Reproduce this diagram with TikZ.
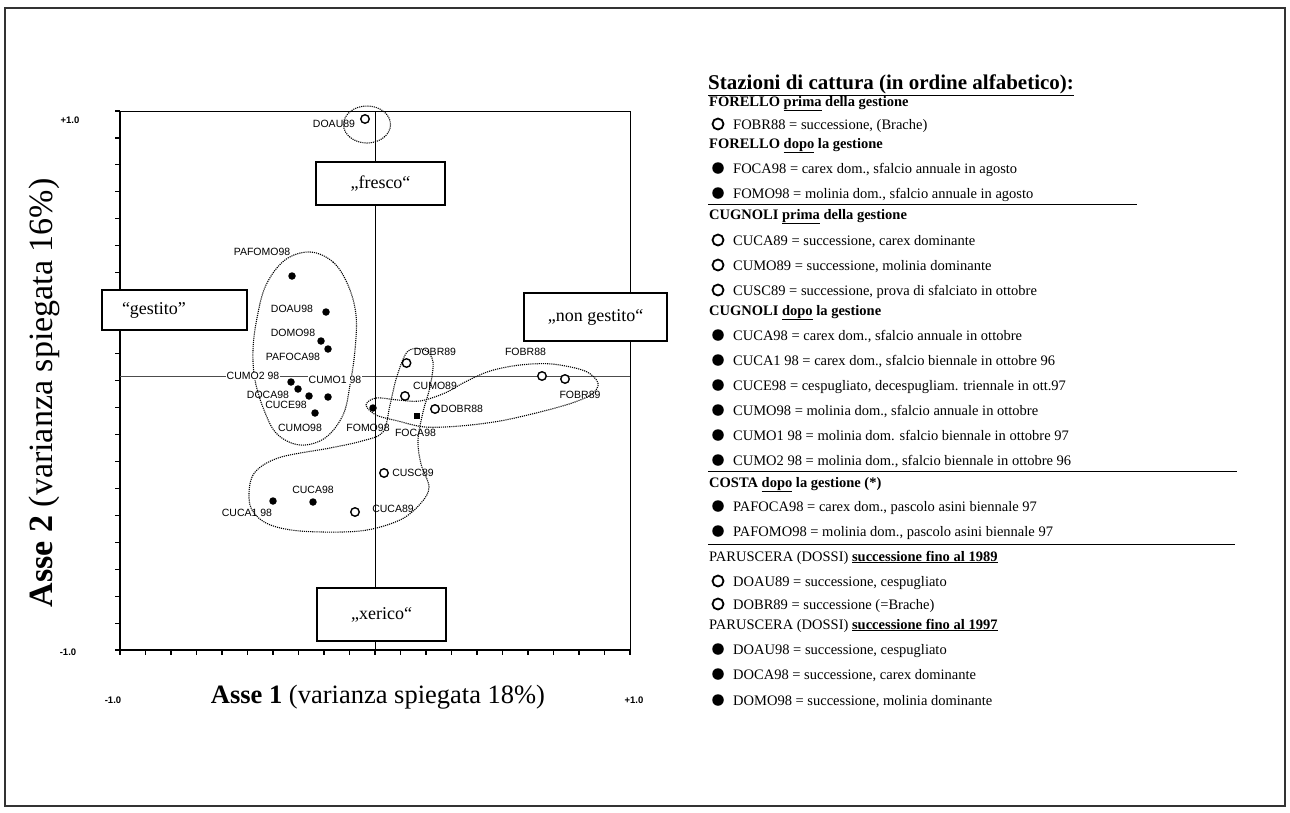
\documentclass[tikz,border=0pt]{standalone}
\usepackage{fontspec}
\setmainfont{Liberation Serif}
\newfontfamily\lblfont{Liberation Sans}
\begin{document}
\begin{tikzpicture}[x=1pt,y=-1pt,
  opendot/.style={circle,draw,line width=1.4pt,inner sep=0pt,minimum size=8.5pt,fill=white},
  fulldot/.style={circle,fill,inner sep=0pt,minimum size=7.5pt},
  fullsq/.style={rectangle,fill,inner sep=0pt,minimum size=6.5pt},
  ptlabel/.style={font=\lblfont\fontsize{10.5}{10.5}\selectfont,inner sep=0.5pt},
  ticklabel/.style={font=\lblfont\bfseries\fontsize{9.5}{9.5}\selectfont,inner sep=0pt},
  boxlbl/.style={draw,line width=1.3pt,fill=white,inner sep=0pt,font=\fontsize{18}{18}\selectfont},
  region/.style={densely dotted,line width=1.1pt},
  legtext/.style={anchor=base west,font=\fontsize{14.5}{14.5}\selectfont,inner sep=0pt},
  legopen/.style={circle,draw,line width=1.8pt,inner sep=0pt,minimum size=11pt},
  legfull/.style={circle,fill,inner sep=0pt,minimum size=11.5pt},
  rulestyle/.style={line width=0.9pt}
]
\useasboundingbox (0,0) rectangle (1290,812);
% outer frame
\draw[line width=1.4pt,black!80] (5,8) rectangle (1285,806);

% plot frame
\coordinate (TL) at (120,111);
\coordinate (TR) at (630,111);
\coordinate (BL) at (120,650);
\coordinate (BR) at (630,650);
\draw[line width=0.9pt] (TL) -- (TR) -- (BR);
\draw[line width=1.4pt] (TL) -- (BL) -- (BR);
\foreach \k in {0,...,20} {
  \draw[line width=1.1pt] (115,{111+\k*26.95}) -- (120,{111+\k*26.95});
  \draw[line width=1.1pt] ({120+\k*25.5},650) -- ({120+\k*25.5},655);
}
% centre lines
\coordinate (VT) at (375,111);
\coordinate (VB) at (375,650);
\coordinate (HL) at (120,376);
\coordinate (HR) at (630,376);
\draw[line width=0.6pt,black!70] (HL) -- (HR);
\draw[line width=0.8pt] (VT) -- (VB);

% tick labels
\node[ticklabel] (yp) at (70,120) {+1.0};
\node[ticklabel] (ym) at (68,652) {-1.0};
\node[ticklabel] (xm) at (113,700) {-1.0};
\node[ticklabel] (xp) at (634,700) {+1.0};

% axis titles
\node[inner sep=0pt,font=\fontsize{26.5}{26.5}\selectfont] (ax1) at (378,697) {\textbf{Asse 1} (varianza spiegata 18\%)};
\node[inner sep=0pt,rotate=90,font=\fontsize{34}{34}\selectfont] (ax2) at (44,393) {\textbf{Asse 2} (varianza spiegata 16\%)};

% direction boxes
\node[boxlbl,minimum width=129pt,minimum height=43pt] (fresco) at (380.5,183.5) {„fresco“};
\node[boxlbl,minimum width=145pt,minimum height=40pt,text width=145pt,align=left] (gestito) at (174.5,310) {\hspace*{20pt}“gestito”};
\node[boxlbl,minimum width=143pt,minimum height=48pt] (nongestito) at (595.5,317) {„non gestito“};
\node[boxlbl,minimum width=129pt,minimum height=53pt] (xerico) at (381.5,614.5) {„xerico“};

% regions
\draw[region] (367,124.5) ellipse [x radius=23.5pt,y radius=18.5pt];
\draw[region] plot[smooth cycle,tension=0.6] coordinates {(310,252) (333,262) (348,285) (356,315) (355,350) (350,385) (343,415) (325,438) (300,445) (277,434) (264,410) (255,380) (253,350) (257,318) (266,285) (285,260)};
\draw[region] plot[smooth cycle,tension=0.55] coordinates {(408,351) (425,350) (433,362) (430,387) (423,412) (418,440) (421,464) (429,487) (421,503) (400,520) (360,531) (300,531) (266,523) (250,505) (253,475) (278,458) (330,448) (362,441) (383,432) (390,405) (397,376)};
\draw[region] plot[smooth cycle,tension=0.55] coordinates {(366,405) (376,398) (398,400) (420,401) (445,393) (465,382) (490,371) (520,365) (552,364) (585,371) (598,383) (592,394) (572,403) (540,412) (500,421) (460,426) (425,427) (398,421) (376,415)};

% points
\node[opendot] (pDOAU89) at (365,119) {};
\node[fulldot] (pPAFOMO98) at (292,276) {};
\node[fulldot] (pDOAU98) at (326,312) {};
\node[fulldot] (pDOMO98) at (321,341) {};
\node[fulldot] (pPAFOCA98) at (328,349) {};
\node[fulldot] (pCUMO298) at (291,382) {};
\node[fulldot] (pDOCA98) at (298,389) {};
\node[fulldot] (pCUMO98) at (309,396) {};
\node[fulldot] (pCUMO198) at (328,397) {};
\node[fulldot] (pCUCE98) at (315,413) {};
\node[fulldot] (pFOMO98) at (373,408) {};
\node[fullsq] (pFOCA98) at (417,416) {};
\node[opendot] (pDOBR89) at (406.5,363) {};
\node[opendot] (pCUMO89) at (405,396) {};
\node[opendot] (pDOBR88) at (435,409) {};
\node[opendot] (pFOBR88) at (542,376) {};
\node[opendot] (pFOBR89) at (565,379) {};
\node[opendot] (pCUSC89) at (384,473) {};
\node[opendot] (pCUCA89) at (355,512) {};
\node[fulldot] (pCUCA98) at (313,502) {};
\node[fulldot] (pCUCA198) at (273,501) {};

% point labels
\node[ptlabel] (lDOAU89) at (334,124) {DOAU89};
\node[ptlabel] (lPAFOMO98) at (262,252) {PAFOMO98};
\node[ptlabel] (lDOAU98) at (292,309) {DOAU98};
\node[ptlabel] (lDOMO98) at (293,333) {DOMO98};
\node[ptlabel] (lPAFOCA98) at (293,357) {PAFOCA98};
\node[ptlabel,fill=white] (lCUMO298) at (253,376) {CUMO2 98};
\node[ptlabel,fill=white] (lCUMO198) at (335,380) {CUMO1 98};
\node[ptlabel] (lDOCA98) at (268,395) {DOCA98};
\node[ptlabel] (lCUCE98) at (286,405) {CUCE98};
\node[ptlabel] (lCUMO98) at (300,428) {CUMO98};
\node[ptlabel] (lFOMO98) at (368,428) {FOMO98};
\node[ptlabel] (lFOCA98) at (415.5,433) {FOCA98};
\node[ptlabel] (lDOBR89) at (435,352) {DOBR89};
\node[ptlabel] (lCUMO89) at (435,386) {CUMO89};
\node[ptlabel] (lDOBR88) at (462,409) {DOBR88};
\node[ptlabel] (lFOBR88) at (525.5,352) {FOBR88};
\node[ptlabel] (lFOBR89) at (580,395) {FOBR89};
\node[ptlabel] (lCUSC89) at (413,473) {CUSC89};
\node[ptlabel] (lCUCA89) at (393,509) {CUCA89};
\node[ptlabel] (lCUCA98) at (313,490) {CUCA98};
\node[ptlabel] (lCUCA198) at (247,513) {CUCA1 98};

% legend
\node[anchor=base west,inner sep=0pt,font=\bfseries\fontsize{21}{21}\selectfont] (title) at (708,89) {\underline{Stazioni di cattura (in ordine alfabetico):}};

\node[legtext] (h1) at (709,106) {\textbf{FORELLO \underline{prima} della gestione}};
\node[legopen] (s1) at (718,124) {};
\node[legtext] (t1) at (733,129) {FOBR88 = successione, (Brache)};
\node[legtext] (h2) at (709,148) {\textbf{FORELLO \underline{dopo} la gestione}};
\node[legfull] (s2) at (718,168) {};
\node[legtext] (t2) at (733,173) {FOCA98 = carex dom., sfalcio annuale in agosto};
\node[legfull] (s3) at (718,193) {};
\node[legtext] (t3) at (733,198) {FOMO98 = molinia dom., sfalcio annuale in agosto};
\coordinate (r1a) at (708,204); \coordinate (r1b) at (1137,204);
\draw[rulestyle] (r1a) -- (r1b);

\node[legtext] (h3) at (709,219) {\textbf{CUGNOLI \underline{prima} della gestione}};
\node[legopen] (s4) at (718,240) {};
\node[legtext] (t4) at (733,245) {CUCA89 = successione, carex dominante};
\node[legopen] (s5) at (718,265) {};
\node[legtext] (t5) at (733,270) {CUMO89 = successione, molinia dominante};
\node[legopen] (s6) at (718,290) {};
\node[legtext] (t6) at (733,295) {CUSC89 = successione, prova di sfalciato in ottobre};
\node[legtext] (h4) at (709,315) {\textbf{CUGNOLI \underline{dopo} la gestione}};
\node[legfull] (s7) at (718,335) {};
\node[legtext] (t7) at (733,340) {CUCA98 = carex dom., sfalcio annuale in ottobre};
\node[legfull] (s8) at (718,360) {};
\node[legtext] (t8) at (733,365) {CUCA1 98 = carex dom., sfalcio biennale in ottobre 96};
\node[legfull] (s9) at (718,385) {};
\node[legtext] (t9) at (733,390) {CUCE98 = cespugliato, decespugliam. triennale in ott.97};
\node[legfull] (s10) at (718,410) {};
\node[legtext] (t10) at (733,415) {CUMO98 = molinia dom., sfalcio annuale in ottobre};
\node[legfull] (s11) at (718,435) {};
\node[legtext] (t11) at (733,440) {CUMO1 98 = molinia dom. sfalcio biennale in ottobre 97};
\node[legfull] (s12) at (718,460) {};
\node[legtext] (t12) at (733,465) {CUMO2 98 = molinia dom., sfalcio biennale in ottobre 96};
\coordinate (r2a) at (708,471); \coordinate (r2b) at (1237,471);
\draw[rulestyle] (r2a) -- (r2b);

\node[legtext] (h5) at (709,487) {\textbf{COSTA \underline{dopo} la gestione (*)}};
\node[legfull] (s13) at (718,506) {};
\node[legtext] (t13) at (733,511) {PAFOCA98 = carex dom., pascolo asini biennale 97};
\node[legfull] (s14) at (718,531) {};
\node[legtext] (t14) at (733,536) {PAFOMO98 = molinia dom., pascolo asini biennale 97};
\coordinate (r3a) at (708,544); \coordinate (r3b) at (1235,544);
\draw[rulestyle] (r3a) -- (r3b);

\node[legtext] (h6) at (709,561) {PARUSCERA (DOSSI) \textbf{\underline{successione fino al 1989}}};
\node[legopen] (s15) at (718,581) {};
\node[legtext] (t15) at (733,586) {DOAU89 = successione, cespugliato};
\node[legopen] (s16) at (718,604) {};
\node[legtext] (t16) at (733,609) {DOBR89 = successione (=Brache)};
\node[legtext] (h7) at (709,629) {PARUSCERA (DOSSI) \textbf{\underline{successione fino al 1997}}};
\node[legfull] (s17) at (718,649) {};
\node[legtext] (t17) at (733,654) {DOAU98 = successione, cespugliato};
\node[legfull] (s18) at (718,674) {};
\node[legtext] (t18) at (733,679) {DOCA98 = successione, carex dominante};
\node[legfull] (s19) at (718,700) {};
\node[legtext] (t19) at (733,705) {DOMO98 = successione, molinia dominante};
\end{tikzpicture}
\end{document}
